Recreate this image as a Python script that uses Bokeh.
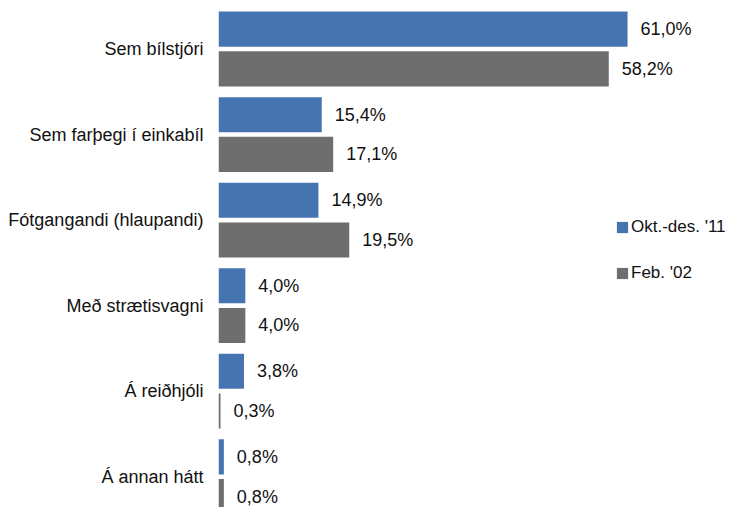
from bokeh.plotting import figure
from bokeh.models import ColumnDataSource, Range1d, FixedTicker, Legend, LegendItem, LabelSet
from bokeh.core.properties import value
from bokeh.embed import file_html
from bokeh.resources import INLINE

categories = ["Sem bílstjóri", "Sem farþegi í einkabíl", "Fótgangandi (hlaupandi)",
              "Með strætisvagni", "Á reiðhjóli", "Á annan hátt"]
series_names = ["Okt.-des. '11", "Feb. '02"]
okt_des_11 = [61.0, 15.4, 14.9, 4.0, 3.8, 0.8]
feb_02 = [58.2, 17.1, 19.5, 4.0, 0.3, 0.8]

colors = ["#4674B1", "#6E6E6E"]
FONT = "Liberation Sans"
FS = "18px"
TXT = "#111111"

n = len(categories)
ypos = [n - 1 - i for i in range(n)]
offset = 0.232
bar_h = 0.41


def fmt(v):
    return f"{v:.1f}".replace(".", ",") + "%"


p = figure(width=733, height=507, output_backend="svg", toolbar_location=None,
           x_range=Range1d(0, 76.8), y_range=Range1d(-0.36, 5.567),
           x_axis_location=None, min_border_left=218, min_border_right=0,
           min_border_top=0, min_border_bottom=0)
p.outline_line_color = None
p.grid.visible = False
p.background_fill_color = "white"

renderers = []
for vals, off, col in [(okt_des_11, offset, colors[0]), (feb_02, -offset, colors[1])]:
    src = ColumnDataSource(dict(y=[y + off for y in ypos], right=vals,
                                lab=[fmt(v) for v in vals]))
    r = p.hbar(y="y", right="right", left=0, height=bar_h, source=src,
               fill_color=col, line_color=None)
    renderers.append(r)
    ls = LabelSet(x="right", y="y", text="lab", source=src, x_offset=13,
                  text_baseline="middle", text_align="left",
                  text_font=value(FONT), text_font_size=value(FS),
                  text_color=TXT)
    p.add_layout(ls)

ax = p.yaxis[0]
ax.ticker = FixedTicker(ticks=ypos)
ax.major_label_overrides = {y: c for y, c in zip(ypos, categories)}
ax.axis_line_color = None
ax.major_tick_line_color = None
ax.minor_tick_line_color = None
ax.major_tick_in = 0
ax.major_tick_out = 0
ax.major_label_standoff = 15
ax.major_label_text_font = FONT
ax.major_label_text_font_size = FS
ax.major_label_text_color = TXT

legend = Legend(items=[LegendItem(label=series_names[0], renderers=[renderers[0]]),
                       LegendItem(label=series_names[1], renderers=[renderers[1]])],
                location=(397, 224), padding=0, margin=0, spacing=26,
                glyph_width=14, glyph_height=14, label_height=14, label_standoff=2,
                border_line_color=None, background_fill_alpha=0,
                label_text_font=FONT, label_text_font_size="17px",
                label_text_color=TXT)
p.add_layout(legend)

open("out.html", "w").write(file_html(p, INLINE))
